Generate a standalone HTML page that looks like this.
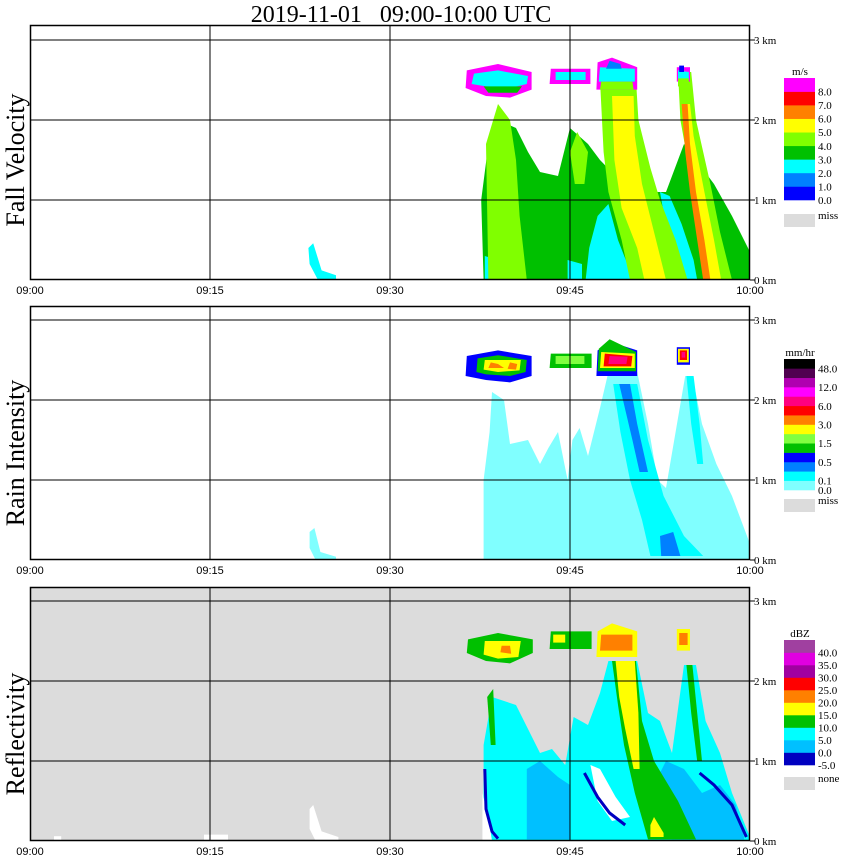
<!DOCTYPE html>
<html><head><meta charset="utf-8">
<style>
html,body{margin:0;padding:0;background:#fff;}
svg{display:block;}
text{font-family:"Liberation Serif",serif;}
.tk{font-family:"Liberation Sans",sans-serif;font-size:11px;}
</style></head>
<body>
<svg id="chart" width="850" height="868" viewBox="0 0 850 868" xmlns="http://www.w3.org/2000/svg">
<text x="401" y="22" font-size="24" text-anchor="middle" xml:space="preserve" style="white-space:pre">2019-11-01   09:00-10:00 UTC</text>
</svg>
<script>
// ---- data ----
const timeTicks = ["09:00","09:15","09:30","09:45","10:00"];
const tickMinutes = [0,15,30,45,60];
const kmTicks = [0,1,2,3];
const kmLabels = ["0 km","1 km","2 km","3 km"];
const panelTitles = ["Fall Velocity","Rain Intensity","Reflectivity"];

const fvColors = ["#0000ff","#0080ff","#00ffff","#00c000","#80ff00","#ffff00","#ff8000","#ff0000","#ff00ff"];
const fvLabels = ["0.0","1.0","2.0","3.0","4.0","5.0","6.0","7.0","8.0"];
const riColors = ["#80ffff","#00ffff","#0080ff","#0000ff","#00c000","#80ff40","#ffff00","#ff8000","#ff0000","#ff0080","#ff00ff","#b000b0","#500050","#000000"];
const riLabels = ["0.1","0.5","1.5","3.0","6.0","12.0","48.0"];
const dbzColors = ["#0000c0","#00c0ff","#00ffff","#00c000","#ffff00","#ff8000","#ff0000","#a000a0","#e000e0","#a040a0"];
const dbzLabels = ["-5.0","0.0","5.0","10.0","15.0","20.0","25.0","30.0","35.0","40.0"];

// shapes: category index + vertices [minute, km]
const fvShapes = [
 {v:2, p:[[23.2,0.4],[23.6,0.46],[24.3,0.12],[25.5,0.06],[25.5,0],[24,0],[23.3,0.2]]},
 {v:3, p:[[37.8,0],[37.6,1.0],[38.2,1.7],[39,2.0],[40.5,1.9],[41.5,1.6],[42.5,1.35],[44,1.3],[44.5,1.6],[45,1.9],[46.5,1.7],[47.5,1.5],[48.8,1.3],[50,1.6],[51,1.5],[52,1.1],[53,1.1],[54.5,1.7],[55.5,1.5],[57,1.2],[58.5,0.8],[60,0.35],[60,0]]},
 {v:2, p:[[37.9,0],[37.9,0.3],[39,0.25],[39.5,0]]},
 {v:2, p:[[46.3,0],[46.6,0.4],[47.3,0.8],[48.2,0.95],[49,0.5],[50.3,0]]},
 {v:2, p:[[44.8,0],[44.8,0.25],[46,0.2],[46,0]]},
 {v:2, p:[[52.5,1.1],[53.3,1.05],[54.3,0.7],[55.3,0.25],[55.6,0],[54.6,0],[53.2,0.5]]},
 {v:4, p:[[38.2,0],[38,1.7],[39,2.2],[40,2.0],[40.5,1.5],[40.8,0.8],[41.4,0]]},
 {v:4, p:[[45,1.6],[45.6,1.85],[46.5,1.6],[46.2,1.2],[45.4,1.2]]},
 {v:4, p:[[47.5,2.5],[47.8,1.6],[48.2,1.1],[49.3,0.5],[50,0],[54.8,0],[53.8,0.5],[52.5,1.0],[51.7,1.4],[50.7,2.0],[50.5,2.5]]},
 {v:5, p:[[48.5,2.3],[48.7,1.5],[49.3,0.9],[50.6,0.4],[51.2,0],[53,0],[52,0.6],[51,1.2],[50.4,1.8],[50.3,2.3]]},
 {v:4, p:[[54,2.6],[54.2,2.0],[54.8,1.5],[55.6,0.6],[56.3,0],[58.5,0],[57.5,0.6],[56.7,1.2],[55.5,2.0],[55.1,2.6]]},
 {v:5, p:[[54.3,2.2],[54.7,1.5],[55.3,0.9],[56,0.3],[56.3,0],[57.6,0],[57,0.5],[56.2,1.1],[55.3,1.8],[55,2.2]]},
 {v:6, p:[[54.3,2.2],[54.6,1.6],[55,1.1],[55.6,0.5],[56.1,0],[56.7,0],[56.2,0.5],[55.5,1.1],[55,1.7],[54.8,2.2]]},
 {v:8, p:[[36.3,2.4],[36.4,2.62],[39,2.7],[41.8,2.6],[41.8,2.38],[40,2.28],[38,2.3]]},
 {v:2, p:[[36.8,2.45],[37,2.58],[39,2.62],[41.5,2.55],[41.4,2.45],[40,2.4],[38,2.42]]},
 {v:3, p:[[37.8,2.42],[41,2.42],[40.6,2.34],[38.2,2.34]]},
 {v:8, p:[[43.3,2.45],[43.4,2.64],[46.7,2.64],[46.7,2.45]]},
 {v:2, p:[[43.8,2.5],[43.8,2.6],[46.3,2.6],[46.3,2.5]]},
 {v:8, p:[[47.2,2.38],[47.3,2.72],[48.5,2.78],[50.6,2.66],[50.6,2.38]]},
 {v:2, p:[[47.4,2.48],[47.5,2.66],[50.4,2.64],[50.4,2.48]]},
 {v:1, p:[[48,2.64],[48.3,2.74],[49.2,2.7],[49.3,2.64]]},
 {v:4, p:[[47.5,2.38],[50.3,2.38],[50.2,2.48],[47.6,2.48]]},
 {v:8, p:[[53.9,2.48],[53.9,2.66],[55,2.66],[55,2.48]]},
 {v:2, p:[[54,2.5],[54,2.62],[54.9,2.6],[54.9,2.5]]},
 {v:4, p:[[54,2.42],[54.9,2.42],[54.9,2.52],[54,2.52]]},
 {v:0, p:[[54.1,2.6],[54.1,2.68],[54.5,2.68],[54.5,2.6]]}
];
const riShapes = [
 {v:0, p:[[23.3,0.35],[23.7,0.4],[24.2,0.1],[25.5,0.04],[25.5,0],[23.8,0],[23.3,0.15]]},
 {v:0, p:[[37.8,0],[37.8,1.0],[38.3,1.6],[38.5,2.1],[39.5,2.0],[40,1.45],[41.5,1.5],[42.5,1.2],[43.2,1.4],[44,1.6],[44.8,1.0],[45.2,1.5],[45.8,1.65],[46.5,1.3],[47.5,1.9],[48.2,2.35],[50.6,2.35],[51.5,1.7],[52.3,1.0],[53,0.9],[53.8,1.6],[54.6,2.3],[55.2,2.3],[56,1.7],[57.2,1.2],[58.5,0.8],[60,0.2],[60,0]]},
 {v:1, p:[[48.6,2.2],[50.6,2.2],[51.5,1.5],[52.8,0.8],[54.5,0.3],[56.1,0.05],[51.7,0.05],[51,0.5],[50,1.0],[49.2,1.6]]},
 {v:2, p:[[49.1,2.2],[50,2.2],[50.6,1.7],[51.5,1.1],[50.8,1.1],[50.2,1.5]]},
 {v:2, p:[[52.5,0.3],[53.6,0.35],[54.2,0.05],[52.6,0.05]]},
 {v:1, p:[[54.7,2.3],[55.3,2.3],[55.8,1.7],[56.1,1.2],[55.6,1.2],[55.1,1.7]]},
 {v:3, p:[[36.3,2.3],[36.4,2.55],[39,2.62],[41.8,2.55],[41.8,2.3],[40,2.22],[38,2.25]]},
 {v:4, p:[[37.2,2.35],[37.3,2.52],[39,2.56],[41.4,2.5],[41.3,2.35],[40,2.3],[38,2.32]]},
 {v:6, p:[[37.8,2.38],[37.9,2.5],[40.9,2.5],[40.8,2.37],[39,2.35]]},
 {v:7, p:[[38.2,2.4],[38.4,2.47],[39,2.45],[39.5,2.4]]},
 {v:7, p:[[39.8,2.39],[40,2.47],[40.6,2.45],[40.5,2.38]]},
 {v:4, p:[[43.3,2.4],[43.4,2.58],[46.8,2.58],[46.8,2.4]]},
 {v:5, p:[[43.8,2.45],[43.8,2.55],[46.2,2.55],[46.2,2.45]]},
 {v:3, p:[[47.2,2.3],[47.3,2.62],[48.5,2.72],[50.6,2.62],[50.6,2.3]]},
 {v:4, p:[[47.3,2.36],[47.4,2.64],[48.3,2.76],[50.5,2.6],[50.5,2.36]]},
 {v:6, p:[[47.5,2.4],[47.6,2.6],[50.4,2.58],[50.4,2.4]]},
 {v:8, p:[[47.8,2.42],[47.9,2.58],[50.2,2.55],[50.1,2.42]]},
 {v:9, p:[[48.2,2.45],[48.3,2.55],[49.8,2.54],[49.7,2.45]]},
 {v:3, p:[[53.9,2.44],[53.9,2.66],[55,2.66],[55,2.44]]},
 {v:6, p:[[54,2.47],[54,2.64],[54.9,2.64],[54.9,2.47]]},
 {v:8, p:[[54.15,2.5],[54.15,2.62],[54.75,2.62],[54.75,2.5]]},
 {v:9, p:[[54.3,2.53],[54.3,2.6],[54.6,2.6],[54.6,2.53]]}
];
const dbzShapes = [
 {v:-1, p:[[23.3,0.4],[23.6,0.45],[24.3,0.12],[25.7,0.05],[25.7,0],[23.8,0],[23.3,0.15]]},
 {v:-1, p:[[2,0],[2,0.06],[2.6,0.06],[2.6,0]]},
 {v:-1, p:[[14.5,0],[14.5,0.08],[16.5,0.08],[16.5,0]]},
 {v:2, p:[[37.8,0],[37.8,1.2],[38.5,1.8],[40.5,1.7],[41.5,1.4],[42.5,1.1],[43.5,1.15],[44.6,0.95],[45.3,1.55],[46.5,1.45],[47.5,1.85],[48.2,2.25],[50.6,2.25],[51.5,1.6],[52.5,1.5],[53.5,1.1],[54.5,2.2],[55.5,2.2],[56.3,1.5],[57.5,1.1],[58.5,0.6],[60,0.05],[60,0]]},
 {v:1, p:[[41.4,0.02],[41.4,0.9],[42.5,1.0],[44,0.8],[45,0.7],[45,0.02]]},
 {v:1, p:[[53.5,0.02],[52.5,0.4],[52,0.7],[53,1.0],[54.5,0.9],[56,0.6],[57.5,0.7],[58.8,0.45],[59.5,0.05],[59.5,0.02]]},
 {v:-1, p:[[46.7,0.95],[47.5,0.9],[48.8,0.55],[50,0.3],[48.5,0.25],[47.3,0.5]]},
 {v:-1, p:[[37.7,0],[37.7,0.6],[38.2,0.3],[38.5,0]]},
 {v:3, p:[[48.5,2.25],[50.5,2.25],[51,1.5],[52,1.0],[54,0.5],[55.5,0.02],[51.5,0.02],[50.4,0.6],[49.5,1.2],[49,1.7]]},
 {v:4, p:[[48.8,2.25],[50.4,2.25],[50.7,1.6],[50.8,0.9],[50.3,0.9],[49.6,1.4],[49.1,1.8]]},
 {v:4, p:[[51.7,0.2],[52,0.3],[52.8,0.1],[52.8,0.05],[51.7,0.05]]},
 {v:3, p:[[54.7,2.2],[55.2,2.2],[55.6,1.6],[56,1.0],[55.6,1.0],[55.1,1.6]]},
 {v:3, p:[[38.1,1.8],[38.6,1.9],[38.8,1.2],[38.4,1.2]]},
 {v:3, p:[[36.4,2.35],[36.5,2.52],[39,2.6],[41.9,2.52],[41.9,2.35],[40,2.22],[38,2.25]]},
 {v:4, p:[[37.8,2.33],[37.9,2.5],[40.9,2.5],[40.7,2.3],[39,2.28]]},
 {v:5, p:[[39.2,2.36],[39.3,2.44],[40,2.44],[40.1,2.34]]},
 {v:3, p:[[43.3,2.4],[43.4,2.62],[46.8,2.62],[46.8,2.4]]},
 {v:4, p:[[43.6,2.48],[43.6,2.58],[44.6,2.58],[44.6,2.48]]},
 {v:4, p:[[47.2,2.3],[47.3,2.62],[48.5,2.72],[50.6,2.62],[50.6,2.3]]},
 {v:5, p:[[47.5,2.38],[47.6,2.58],[50.2,2.58],[50.2,2.38]]},
 {v:4, p:[[53.9,2.38],[53.9,2.65],[55,2.65],[55,2.38]]},
 {v:5, p:[[54.1,2.45],[54.1,2.6],[54.8,2.6],[54.8,2.45]]}
];
// dark blue edge lines (reflectivity -5 dBZ rims)
const dbzEdges = [
 [[37.9,0.9],[38,0.4],[38.5,0.12],[39,0.03]],
 [[55.8,0.85],[57,0.7],[58.5,0.45],[59.7,0.05]],
 [[46.2,0.85],[47.3,0.55],[48.3,0.35],[49.6,0.2]]
];

// ---- layout ----
const svg = document.getElementById('chart');
const NS = 'http://www.w3.org/2000/svg';
const X0 = 30, X1 = 750;
const panelBottoms = [280, 560, 841];
const panelTops = [25, 306, 587];
const kmPx = 80;
const xScale = m => X0 + m * (X1 - X0) / 60;
const yScale = (pi, km) => panelBottoms[pi] - km * kmPx;

function mk(tag, attrs, parent) {
  const e = document.createElementNS(NS, tag);
  for (const k in attrs) e.setAttribute(k, attrs[k]);
  (parent || svg).appendChild(e);
  return e;
}

const allShapes = [fvShapes, riShapes, dbzShapes];
const allColors = [fvColors, riColors, dbzColors];
const panelNames = ['fall-velocity-panel','rain-intensity-panel','reflectivity-panel'];

for (let pi = 0; pi < 3; pi++) {
  const g = mk('g', {});
  
  
  const bg = mk('rect', {x:X0, y:panelTops[pi], width:X1-X0, height:panelBottoms[pi]-panelTops[pi], fill: pi===2 ? '#dcdcdc' : '#ffffff'}, g);
  
  
  const shapes = allShapes[pi], cols = allColors[pi];
  shapes.forEach(s => {
    const pts = s.p.map(q => xScale(q[0]).toFixed(1) + ',' + yScale(pi, q[1]).toFixed(1)).join(' ');
    const poly = mk('polygon', {points: pts, fill: s.v < 0 ? '#ffffff' : cols[s.v]}, g);
    
    
  });
  if (pi === 2) {
    dbzEdges.forEach(line => {
      const pts = line.map(q => xScale(q[0]).toFixed(1) + ',' + yScale(2, q[1]).toFixed(1)).join(' ');
      const pl = mk('polyline', {points: pts, fill:'none', stroke:'#0000c0', 'stroke-width':3}, g);
      
      
    });
  }
  kmTicks.forEach((k, i) => {
    if (k > 0) {
      const ln = mk('line', {x1:X0, x2:X1, y1:yScale(pi,k), y2:yScale(pi,k), stroke:'#000', 'stroke-width':1}, g);
      
      
    }
    const tk = mk('line', {x1:X1, x2:X1+5, y1:yScale(pi,k), y2:yScale(pi,k), stroke:'#000'}, g);
    
    
    const t = mk('text', {x:X1+4, y:yScale(pi,k)+4, 'font-size':11}, g);
    t.textContent = kmLabels[i];
    
    
  });
  tickMinutes.forEach((m, i) => {
    if (m > 0 && m < 60) {
      const ln = mk('line', {x1:xScale(m), x2:xScale(m), y1:panelTops[pi], y2:panelBottoms[pi], stroke:'#000'}, g);
      
      
    }
    const t = mk('text', {x:xScale(m), y:panelBottoms[pi]+14, 'text-anchor':'middle', class:'tk'}, g);
    t.textContent = timeTicks[i];
    
    
  });
  const frame = mk('rect', {x:X0+0.5, y:panelTops[pi]+0.5, width:X1-X0-1, height:panelBottoms[pi]-panelTops[pi]-1, fill:'none', stroke:'#000', 'stroke-width':1.5}, g);
  
  
  const cy = (panelTops[pi] + panelBottoms[pi]) / 2 + 20;
  const tt = mk('text', {x:0, y:0, 'font-size':26, 'text-anchor':'middle', transform:'translate(24,' + (pi===0?160:cy) + ') rotate(-90)'}, g);
  tt.textContent = panelTitles[pi];
  
  
}

// ---- color bars ----
function colorbar(cols, labels, top, bot, unit, missTop, missLabel, labelEvery, name, labelOffset) {
  const g = mk('g', {});
  
  
  const n = cols.length, h = (bot - top) / n;
  const u = mk('text', {x:800, y:top-3, 'font-size':11, 'text-anchor':'middle'}, g);
  u.textContent = unit;
  
  
  for (let i = 0; i < n; i++) {
    const r = mk('rect', {x:784, y:bot - (i+1)*h, width:31, height:h+0.3, fill:cols[i]}, g);
    
    
  }
  labels.forEach((lb, i) => {
    const t = mk('text', {x:818, y:bot - (i*labelEvery + labelOffset)*h + 4, 'font-size':11}, g);
    t.textContent = lb;
    
    
  });
  const m = mk('rect', {x:784, y:missTop, width:31, height:13, fill:'#dcdcdc'}, g);
  
  
  const mt = mk('text', {x:818, y:missTop+5, 'font-size':11}, g);
  mt.textContent = missLabel;
  
  
}
colorbar(fvColors, fvLabels, 78, 200, 'm/s', 214, 'miss', 1, 'fall-velocity-colorbar', 0);
colorbar(riColors, riLabels, 359, 490, 'mm/hr', 499, 'miss', 2, 'rain-intensity-colorbar', 1);
colorbar(dbzColors, dbzLabels, 640, 765, 'dBZ', 777, 'none', 1, 'reflectivity-colorbar', 0);
const z = mk('text', {x:818, y:494, 'font-size':11});
z.textContent = '0.0';


</script>
</body></html>
